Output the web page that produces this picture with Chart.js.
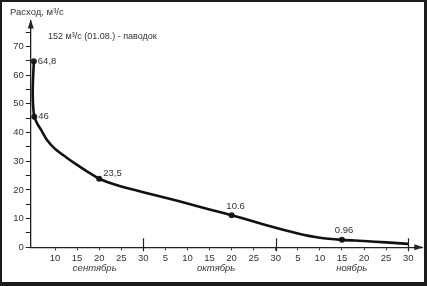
<!DOCTYPE html>
<html>
<head>
<meta charset="utf-8">
<script src="https://cdn.jsdelivr.net/npm/chart.js@4/dist/chart.umd.min.js"></script>
<style>
  body { margin: 0; background: #fff; }
  canvas { display: block; }
</style>
</head>
<body>
<canvas id="flow" width="427" height="286"></canvas>
<script>
// days counted from 1 Sep (Oct d = 30 + d, Nov d = 60 + d)
let flowDays = [5.2, 5.0, 4.95, 5.05, 5.3, 6.0, 6.85, 8.1, 10, 12.5, 15, 17.5, 20, 22.5, 25, 30, 35, 40, 45, 50, 55, 60, 65, 70, 75, 80, 85, 90]
let flowValues = [64.8, 58, 53, 49, 45.5, 43, 40.9, 37.6, 34.3, 31.4, 28.7, 26.2, 23.9, 22.4, 21.2, 19.2, 17.3, 15.3, 13.2, 11.2, 9.0, 6.8, 4.8, 3.3, 2.6, 2.2, 1.7, 1.2]

let markDays = [5.2, 5.3, 20, 50, 75]
let markValues = [64.8, 45.5, 23.9, 11.2, 2.6]
let markLabels = ['64,8', '46', '23,5', '10.6', '0.96']

let xTicks = [10, 15, 20, 25, 30, 35, 40, 45, 50, 55, 60, 65, 70, 75, 80, 85, 90]
let yTicks = [0, 5, 10, 15, 20, 25, 30, 35, 40, 45, 50, 55, 60, 65, 70, 75]
let monthEnds = [30, 60, 90]
let months = ['сентябрь', 'октябрь', 'ноябрь']
let monthCenters = [19, 46.5, 77.2]

let yTitle = 'Расход, м³/с'
let note = '152 м³/с (01.08.) - паводок'

let ink = '#222'
let textColor = '#333'
let font = '"Liberation Sans", Arial, sans-serif'

// label offsets (px) for point labels: [dx, dy, align]
let markOffsets = [[4, 0, 'left'], [4, 0, 'left'], [4, -5, 'left'], [4, -9, 'center'], [2, -9, 'center']]

function dayLabel(v) {
  if (v <= 30) return String(v)
  if (v <= 60) return String(v - 30)
  return String(v - 60)
}

let decor = {
  id: 'decor',
  beforeDraw(chart) {
    let c = chart.ctx
    c.save()
    c.fillStyle = '#fff'
    c.fillRect(0, 0, chart.width, chart.height)
    c.restore()
  },
  afterDatasetsDraw(chart) {
    let c = chart.ctx
    let x = chart.scales.x, y = chart.scales.y
    c.save()
    c.fillStyle = textColor
    c.font = '9.5px ' + font
    c.textBaseline = 'middle'
    markLabels.forEach((t, i) => {
      let o = markOffsets[i]
      c.textAlign = o[2]
      c.fillText(t, x.getPixelForValue(markDays[i]) + o[0], y.getPixelForValue(markValues[i]) + o[1])
    })
    c.restore()
  },
  afterDraw(chart) {
    let c = chart.ctx
    let a = chart.chartArea
    let x = chart.scales.x, y = chart.scales.y
    c.save()
    c.fillStyle = ink
    c.strokeStyle = ink
    // arrows
    c.beginPath()
    c.moveTo(a.left, a.top - 1)
    c.lineTo(a.left - 3, a.top + 8)
    c.lineTo(a.left + 3, a.top + 8)
    c.closePath()
    c.fill()
    c.beginPath()
    c.moveTo(a.right + 1, a.bottom)
    c.lineTo(a.right - 8, a.bottom - 3)
    c.lineTo(a.right - 8, a.bottom + 3)
    c.closePath()
    c.fill()
    // month separators
    c.lineWidth = 1.2
    monthEnds.forEach(d => {
      let px = Math.round(x.getPixelForValue(d)) + 0.5
      c.beginPath()
      c.moveTo(px, a.bottom - 9)
      c.lineTo(px, a.bottom + 4)
      c.stroke()
    })
    // texts
    c.fillStyle = textColor
    c.textBaseline = 'middle'
    c.font = '9.5px ' + font
    c.textAlign = 'left'
    c.fillText(yTitle, 10, 12.5)
    c.font = '9px ' + font
    c.fillText(note, 48, 36.5)
    c.font = 'italic 9.5px ' + font
    c.textAlign = 'center'
    months.forEach((m, i) => {
      c.fillText(m, x.getPixelForValue(monthCenters[i]), a.bottom + 21.5)
    })
    // frame
    c.fillStyle = '#1c1c1c'
    c.fillRect(0, 0, chart.width, 2)
    c.fillRect(0, 0, 2, chart.height)
    c.fillRect(chart.width - 3, 0, 3, chart.height)
    c.fillRect(0, chart.height - 4, chart.width, 4)
    c.restore()
  }
}

let flowChart = new Chart(document.getElementById('flow').getContext('2d'), {
  type: 'line',
  data: {
    datasets: [{
      data: flowDays.map((d, i) => ({ x: d, y: flowValues[i] })),
      borderColor: '#111',
      borderWidth: 2.6,
      tension: 0.25,
      pointRadius: 0,
      fill: false
    }, {
      data: markDays.map((d, i) => ({ x: d, y: markValues[i] })),
      showLine: false,
      pointRadius: 3,
      pointBackgroundColor: '#222',
      pointBorderColor: '#222',
      pointBorderWidth: 0
    }]
  },
  plugins: [decor],
  options: {
    responsive: false,
    animation: false,
    events: [],
    layout: { padding: { left: 0, top: 20.6, right: 4.7, bottom: 0 } },
    plugins: { legend: { display: false }, tooltip: { enabled: false } },
    scales: {
      x: {
        type: 'linear',
        min: 4.5,
        max: 93.2,
        afterFit: s => { s.height = 38.7 },
        afterBuildTicks: s => { s.ticks = xTicks.map(v => ({ value: v })) },
        grid: { drawOnChartArea: false, drawTicks: true, tickLength: 3, color: ink },
        border: { display: true, color: ink, width: 1.3 },
        ticks: {
          autoSkip: false,
          maxRotation: 0,
          padding: 2,
          color: textColor,
          font: { family: font, size: 9.5 },
          callback: v => dayLabel(v)
        }
      },
      y: {
        type: 'linear',
        min: 0,
        max: 79,
        afterFit: s => { s.width = 30.75 },
        afterBuildTicks: s => { s.ticks = yTicks.map(v => ({ value: v })) },
        grid: { drawOnChartArea: false, drawTicks: true, tickLength: 5, color: ink },
        border: { display: true, color: ink, width: 1.3 },
        ticks: {
          padding: 2,
          color: textColor,
          font: { family: font, size: 9.5 },
          callback: v => (v % 10 === 0 ? String(v) : '')
        }
      }
    }
  }
})
</script>
</body>
</html>
